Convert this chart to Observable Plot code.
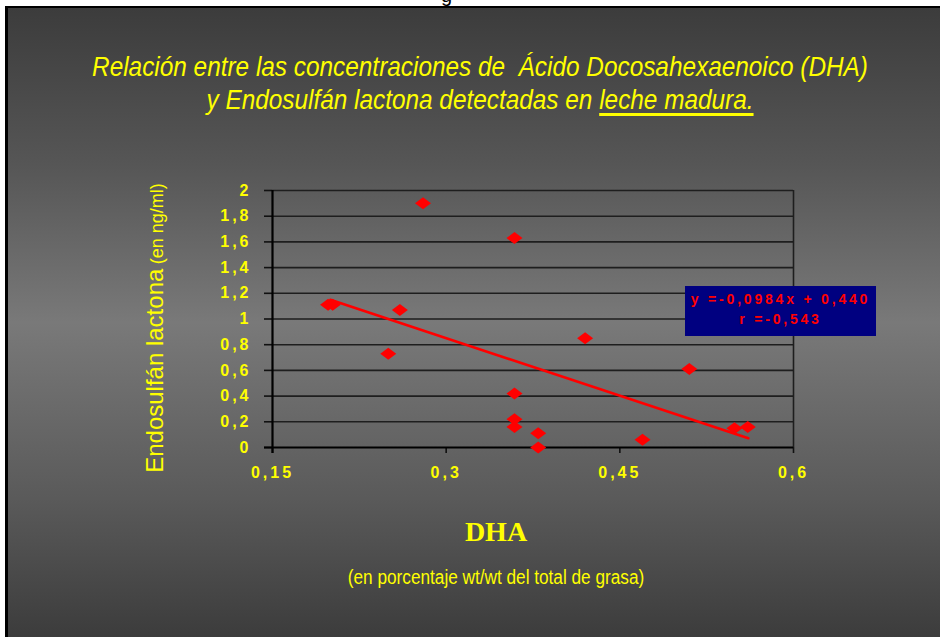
<!DOCTYPE html>
<html>
<head>
<meta charset="utf-8">
<script src="https://cdn.jsdelivr.net/npm/d3@7"></script>
<script src="https://cdn.jsdelivr.net/npm/@observablehq/plot@0.6"></script>
<style>
  html, body { margin: 0; padding: 0; background: #ffffff; }
  #page { position: relative; width: 940px; height: 637px; overflow: hidden; background: #ffffff; }
  #topclip { position: absolute; left: 0; top: 0; width: 940px; height: 6px; overflow: hidden; }
  #topclip span { position: absolute; left: 441px; top: -16px; font: 20px "Liberation Sans", Arial, sans-serif; color: #000; }
  #frame { position: absolute; left: 5px; top: 6px; width: 935px; height: 631px; box-sizing: border-box;
           border-left: 3px solid #000; border-top: 2px solid #000;
           background: linear-gradient(to bottom, #3c3c3c 0%, #565656 25%, #797979 50%, #5a5a5a 78%, #3c3c3c 100%); }
  #chart { position: absolute; left: 0; top: 0; }
  .narrow { font-family: "Liberation Sans", Arial, sans-serif; }
  #title { position: absolute; left: 480px; top: 50px; transform: translateX(-50%) scaleX(0.87); text-align: center; color: #ffff00;
           font-style: italic; font-size: 28px; line-height: 33px; white-space: nowrap; }
  #title u { text-decoration-thickness: 2.5px; text-underline-offset: 4px; }
  #ylab { position: absolute; left: 155px; top: 328px; transform: translate(-50%, -50%) rotate(-90deg);
          white-space: nowrap; color: #ffff00; font-family: "Liberation Sans", Arial, sans-serif; }
  #ylab .big { font-size: 24px; }
  #ylab .small { font-size: 18px; }
  #xlab { position: absolute; left: 496px; top: 532px; transform: translate(-50%, -50%); color: #ffff00;
          font-family: "Liberation Serif", "Times New Roman", serif; font-weight: bold; font-size: 28px; white-space: nowrap; }
  #xsub { position: absolute; left: 496px; top: 577px; transform: translate(-50%, -50%) scaleX(0.86); color: #ffff00;
          font-size: 20px; white-space: nowrap; }
  #eq { position: absolute; left: 685px; top: 286px; width: 191px; height: 50px; background: #000080;
        color: #ff0000; font-family: "Liberation Sans", Arial, sans-serif; font-weight: bold; font-size: 14px;
        letter-spacing: 2.8px; text-align: center; line-height: 20px; padding-top: 3px; box-sizing: border-box; white-space: nowrap; }
  g[aria-label="x-axis tick label"] text { letter-spacing: 3px; }
  g[aria-label="y-axis tick label"] text { letter-spacing: 3px; }
</style>
</head>
<body>
<div id="page">
  <div id="topclip"><span>g</span></div>
  <div id="frame"></div>
  <div id="chart"></div>
  <div id="title" class="narrow">Relación entre las concentraciones de&nbsp; Ácido Docosahexaenoico (DHA)<br>y Endosulfán lactona detectadas en <u>leche madura.</u></div>
  <div id="ylab"><span class="big">Endosulfán lactona</span> <span class="small">(en ng/ml)</span></div>
  <div id="xlab">DHA</div>
  <div id="xsub" class="narrow">(en porcentaje wt/wt del total de grasa)</div>
  <div id="eq">y =-0,0984x + 0,440<br>r =-0,543</div>
</div>
<script>
// Data
const dha  = [0.198, 0.202, 0.250, 0.260, 0.280, 0.359, 0.359, 0.359, 0.359, 0.3795, 0.3795, 0.420, 0.4696, 0.510, 0.549, 0.5605];
const endo = [1.11, 1.11, 0.73, 1.07, 1.90, 1.63, 0.42, 0.22, 0.16, 0.11, 0.00, 0.85, 0.06, 0.61, 0.15, 0.16];
const trendX = [0.200, 0.561];
const trendY = [1.149, 0.072];
const xTicks = [0.15, 0.3, 0.45, 0.6];
const xTickLabels = ["0,15", "0,3", "0,45", "0,6"];
const yTicks = [0, 0.2, 0.4, 0.6, 0.8, 1, 1.2, 1.4, 1.6, 1.8, 2];
const yTickLabels = ["0", "0,2", "0,4", "0,6", "0,8", "1", "1,2", "1,4", "1,6", "1,8", "2"];

const points = dha.map((x, i) => ({x, y: endo[i]}));
const trend = trendX.map((x, i) => ({x, y: trendY[i]}));

const flatDiamond = {
  draw(context, size) {
    const r = Math.sqrt(size / Math.PI);
    context.moveTo(0, -0.75 * r);
    context.lineTo(r, 0);
    context.lineTo(0, 0.75 * r);
    context.lineTo(-r, 0);
    context.closePath();
  }
};

const chart = Plot.plot({
  width: 940,
  height: 637,
  marginLeft: 272,
  marginRight: 147,
  marginTop: 190,
  marginBottom: 190,
  style: {background: "transparent", overflow: "visible", fontFamily: "'Liberation Sans', Arial, sans-serif"},
  x: {domain: [0.15, 0.6]},
  y: {domain: [0, 2]},
  marks: [
    Plot.gridY(yTicks.filter(d => d > 0), {stroke: "#1e1e1e", strokeOpacity: 1, strokeWidth: 1.6}),
    Plot.ruleX([0.6], {stroke: "#1e1e1e", strokeWidth: 1.6}),
    Plot.axisY({ticks: yTicks, tickSize: 8, tickPadding: 13, stroke: "#111", strokeWidth: 1.6,
                fill: "#ffff00", fontSize: 16, fontWeight: "bold", label: null,
                tickFormat: d => yTickLabels[yTicks.indexOf(d)]}),
    Plot.axisX({ticks: xTicks, tickSize: 6, tickPadding: 13, stroke: "#111", strokeWidth: 1.6,
                fill: "#ffff00", fontSize: 16, fontWeight: "bold", label: null,
                tickFormat: d => xTickLabels[xTicks.indexOf(d)]}),
    Plot.ruleX([0.15], {stroke: "#000", strokeWidth: 2.2, insetBottom: -6}),
    Plot.ruleY([0], {stroke: "#000", strokeWidth: 2.2, insetLeft: -8}),
    Plot.line(trend, {x: "x", y: "y", stroke: "#ff0000", strokeWidth: 2.6}),
    Plot.dot(points, {x: "x", y: "y", symbol: flatDiamond, r: 8, fill: "#ff0000", stroke: "none"})
  ]
});
document.getElementById("chart").appendChild(chart);
</script>
</body>
</html>
